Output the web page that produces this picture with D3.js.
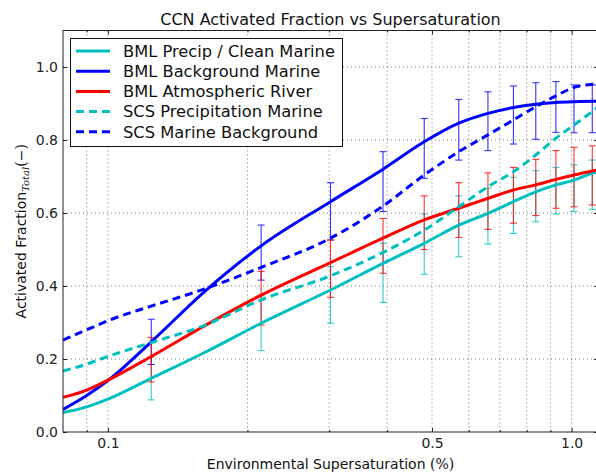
<!DOCTYPE html>
<html>
<head>
<meta charset="utf-8">
<script src="https://cdn.jsdelivr.net/npm/d3@7/dist/d3.min.js"></script>
<style>
  html, body { margin: 0; padding: 0; background: #fff; }
  svg { display: block; }
</style>
</head>
<body>
<svg id="chart" width="596" height="474"></svg>
<script>
// Supersaturation (%) at which the fitted curves are sampled
const ssCurve = [0.08, 0.09, 0.10, 0.124, 0.16, 0.214, 0.302, 0.392, 0.481, 0.571, 0.660, 0.749, 0.837, 0.925, 1.012, 1.108, 1.14];

// Fitted activated-fraction curves
const bmlClean      = [0.053, 0.069, 0.090, 0.147, 0.215, 0.298, 0.389, 0.462, 0.517, 0.567, 0.599, 0.631, 0.658, 0.677, 0.690, 0.709, 0.713];
const bmlBackground = [0.062, 0.100, 0.141, 0.247, 0.380, 0.510, 0.631, 0.720, 0.795, 0.846, 0.873, 0.889, 0.898, 0.903, 0.905, 0.906, 0.906];
const bmlRiver      = [0.095, 0.115, 0.142, 0.207, 0.288, 0.375, 0.464, 0.531, 0.581, 0.613, 0.640, 0.663, 0.677, 0.692, 0.704, 0.715, 0.718];
const scsPrecip     = [0.167, 0.186, 0.207, 0.245, 0.290, 0.362, 0.428, 0.492, 0.553, 0.617, 0.672, 0.713, 0.759, 0.805, 0.841, 0.878, 0.890];
const scsBackground = [0.252, 0.280, 0.305, 0.345, 0.390, 0.451, 0.531, 0.619, 0.704, 0.768, 0.814, 0.855, 0.891, 0.921, 0.944, 0.953, 0.955];

// Instrument supersaturation set points with measured spread (low / high)
const ssErr = [0.124, 0.214, 0.302, 0.392, 0.481, 0.571, 0.660, 0.749, 0.837, 0.925, 1.012, 1.108];
const bgLow   = [0.185, 0.416, 0.526, 0.604, 0.695, 0.745, 0.771, 0.789, 0.802, 0.821, 0.820, 0.820];
const bgHigh  = [0.309, 0.567, 0.683, 0.768, 0.859, 0.911, 0.932, 0.948, 0.957, 0.960, 0.951, 0.951];
const arLow   = [0.137, 0.293, 0.369, 0.435, 0.500, 0.533, 0.555, 0.572, 0.593, 0.613, 0.617, 0.622];
const arHigh  = [0.259, 0.440, 0.526, 0.585, 0.647, 0.683, 0.710, 0.725, 0.747, 0.771, 0.780, 0.784];
const clLow   = [0.088, 0.223, 0.298, 0.355, 0.432, 0.480, 0.515, 0.544, 0.576, 0.597, 0.604, 0.610];
const clHigh  = [0.205, 0.373, 0.453, 0.517, 0.597, 0.647, 0.668, 0.698, 0.716, 0.725, 0.732, 0.745];

// Axis ticks
const xMajorTicks = [0.1, 0.5, 1.0];
const xGridTicks  = [0.09, 0.1, 0.2, 0.3, 0.4, 0.5, 0.6, 0.7, 0.8, 0.9, 1.0];
const yTicks      = [0.0, 0.2, 0.4, 0.6, 0.8, 1.0];

const CYAN = "#00bfbf", BLUE = "#0000ff", RED = "#ff0000";

const series = [
  { name: "BML Precip / Clean Marine", values: bmlClean,      color: CYAN, dash: null },
  { name: "BML Background Marine",     values: bmlBackground, color: BLUE, dash: null },
  { name: "BML Atmospheric River",     values: bmlRiver,      color: RED,  dash: null },
  { name: "SCS Precipitation Marine",  values: scsPrecip,     color: CYAN, dash: "8,5" },
  { name: "SCS Marine Background",     values: scsBackground, color: BLUE, dash: "8,5" }
];

const errSeries = [
  { low: clLow, high: clHigh, color: CYAN },
  { low: bgLow, high: bgHigh, color: BLUE },
  { low: arLow, high: arHigh, color: RED }
];

const svg = d3.select("#chart");
const plotL = 63, plotR = 598, plotT = 30.5, plotB = 432;

const x = d3.scaleLog().domain([0.08, 1.14]).range([plotL, plotR]);
const y = d3.scaleLinear().domain([0, 1.1]).range([plotB, plotT]);

const SANS = "DejaVu Sans, Verdana, sans-serif";
const SERIF = "DejaVu Serif, serif";

svg.append("defs").append("clipPath").attr("id", "plotClip")
  .append("rect").attr("x", plotL).attr("y", plotT)
  .attr("width", plotR - plotL).attr("height", plotB - plotT);

// Dotted grid
const grid = svg.append("g").attr("stroke", "#444").attr("stroke-width", 0.7)
  .attr("stroke-dasharray", "1,3");
grid.selectAll("line.gx").data(xGridTicks).join("line").attr("class", "gx")
  .attr("x1", d => x(d)).attr("x2", d => x(d))
  .attr("y1", plotT).attr("y2", plotB);
grid.selectAll("line.gy").data(yTicks.filter(d => d > 0)).join("line").attr("class", "gy")
  .attr("x1", plotL).attr("x2", plotR)
  .attr("y1", d => y(d)).attr("y2", d => y(d));

// Axes: inward ticks on all four sides
function styleAxis(g) {
  g.select(".domain").remove();
  g.selectAll(".tick line").attr("stroke", "#222");
  g.selectAll(".tick text").attr("fill", "#222")
    .attr("font-family", SANS).attr("font-size", 14);
}
const minorX = xGridTicks.filter(d => !xMajorTicks.includes(d));

svg.append("g").attr("transform", `translate(0,${plotB})`)
  .call(d3.axisBottom(x).tickValues(xMajorTicks).tickSize(-4).tickSizeOuter(0)
    .tickPadding(6).tickFormat(d3.format(".1f")))
  .call(styleAxis);
svg.append("g").attr("transform", `translate(0,${plotB})`)
  .call(d3.axisBottom(x).tickValues(minorX).tickSize(-2).tickSizeOuter(0).tickFormat(""))
  .call(styleAxis);
svg.append("g").attr("transform", `translate(0,${plotT})`)
  .call(d3.axisTop(x).tickValues(xMajorTicks).tickSize(-4).tickSizeOuter(0).tickFormat(""))
  .call(styleAxis);
svg.append("g").attr("transform", `translate(0,${plotT})`)
  .call(d3.axisTop(x).tickValues(minorX).tickSize(-2).tickSizeOuter(0).tickFormat(""))
  .call(styleAxis);
svg.append("g").attr("transform", `translate(${plotL},0)`)
  .call(d3.axisLeft(y).tickValues(yTicks).tickSize(-4).tickSizeOuter(0)
    .tickPadding(5).tickFormat(d3.format(".1f")))
  .call(styleAxis);
svg.append("g").attr("transform", `translate(${plotR},0)`)
  .call(d3.axisRight(y).tickValues(yTicks).tickSize(-4).tickSizeOuter(0).tickFormat(""))
  .call(styleAxis);

// Error bars
const plot = svg.append("g").attr("clip-path", "url(#plotClip)");
const capHalf = 3.5;
errSeries.forEach(s => {
  const g = plot.append("g").attr("stroke", s.color).attr("stroke-width", 1.1)
    .attr("opacity", 0.8).attr("fill", "none");
  ssErr.forEach((ss, i) => {
    const cx = x(ss), y0 = y(s.low[i]), y1 = y(s.high[i]);
    g.append("line").attr("x1", cx).attr("x2", cx).attr("y1", y0).attr("y2", y1);
    g.append("line").attr("x1", cx - capHalf).attr("x2", cx + capHalf).attr("y1", y0).attr("y2", y0);
    g.append("line").attr("x1", cx - capHalf).attr("x2", cx + capHalf).attr("y1", y1).attr("y2", y1);
  });
});

// Curves
const line = d3.line()
  .x((d, i) => x(ssCurve[i]))
  .y(d => y(d))
  .curve(d3.curveMonotoneX);
series.forEach(s => {
  plot.append("path").datum(s.values)
    .attr("d", line)
    .attr("fill", "none")
    .attr("stroke", s.color)
    .attr("stroke-width", 3)
    .attr("stroke-dasharray", s.dash)
    .attr("stroke-linejoin", "round");
});

// Frame
svg.append("rect").attr("x", plotL).attr("y", plotT)
  .attr("width", plotR - plotL).attr("height", plotB - plotT)
  .attr("fill", "none").attr("stroke", "#222").attr("stroke-width", 1);

// Title
svg.append("text").attr("x", (plotL + plotR) / 2).attr("y", 25)
  .attr("text-anchor", "middle").attr("font-family", SANS).attr("font-size", 16)
  .attr("fill", "#111").text("CCN Activated Fraction vs Supersaturation");

// Axis labels
const xl = svg.append("text").attr("x", (plotL + plotR) / 2).attr("y", 469)
  .attr("text-anchor", "middle").attr("font-family", SANS).attr("font-size", 14)
  .attr("fill", "#111");
xl.append("tspan").text("Environmental Supersaturation ");
xl.append("tspan").attr("font-family", SERIF).text("(%)");

const yl = svg.append("text")
  .attr("transform", `translate(26,${(plotT + plotB) / 2}) rotate(-90)`)
  .attr("text-anchor", "middle").attr("font-family", SANS).attr("font-size", 14)
  .attr("fill", "#111");
yl.append("tspan").text("Activated Fraction");
yl.append("tspan").attr("font-family", SERIF).attr("font-style", "italic")
  .attr("font-size", 10).attr("dy", 3).text("Total");
yl.append("tspan").attr("font-family", SERIF).attr("dy", -3).text("(−)");

// Legend
const lg = svg.append("g");
lg.append("rect").attr("x", 70.5).attr("y", 38.5).attr("width", 272).attr("height", 108)
  .attr("fill", "#fff").attr("stroke", "#111").attr("stroke-width", 1);
series.forEach((s, i) => {
  const ly = 51 + i * 20.2;
  lg.append("line").attr("x1", 76).attr("x2", 110).attr("y1", ly).attr("y2", ly)
    .attr("stroke", s.color).attr("stroke-width", 3).attr("stroke-dasharray", s.dash);
  lg.append("text").attr("x", 123).attr("y", ly + 5.8)
    .attr("font-family", SANS).attr("font-size", 16.3).attr("fill", "#111").text(s.name);
});
</script>
</body>
</html>
